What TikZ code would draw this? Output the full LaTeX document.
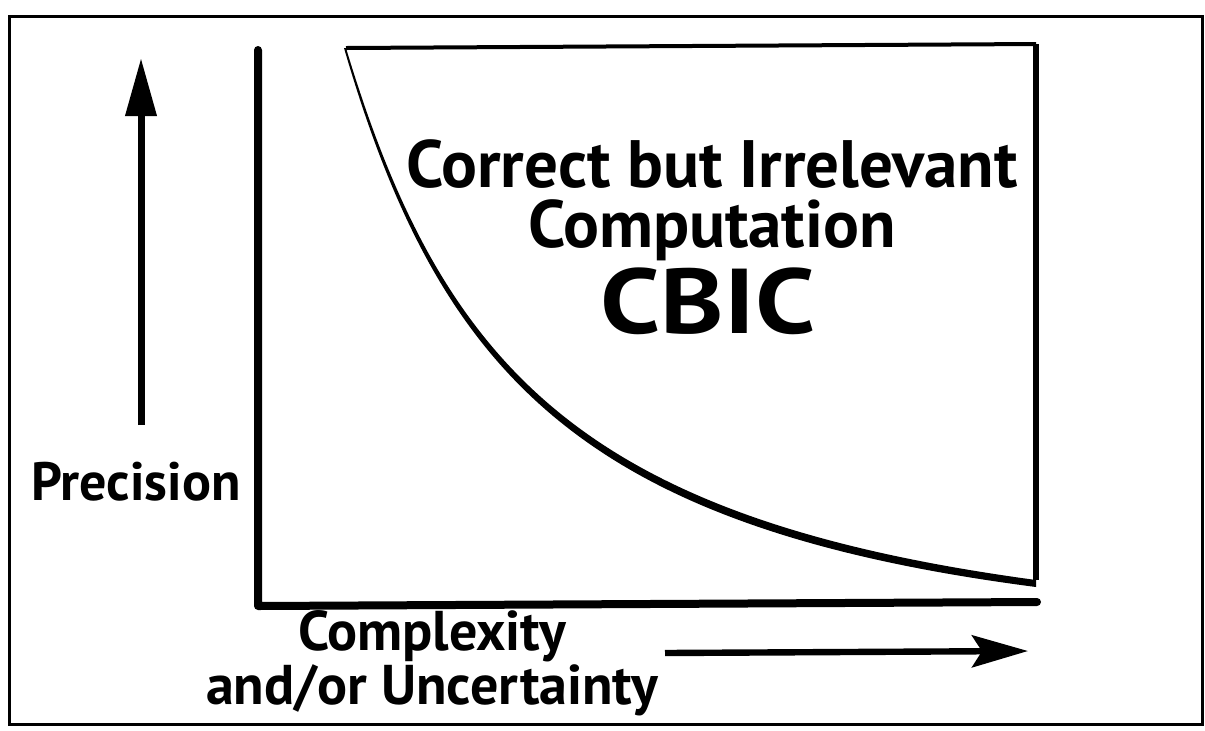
\documentclass[tikz,border=0pt]{standalone}
\usepackage{fontspec}
\setmainfont{PT Sans}
\usetikzlibrary{arrows.meta}
\begin{document}
\begin{tikzpicture}[x=0.5pt,y=-0.5pt,
  lbl/.style={inner sep=0pt, anchor=base},
  frameline/.style={line width=1.5pt},
  axisline/.style={line width=4pt, line cap=round, line join=round},
  uparrow/.style={line width=3.5pt, -{Triangle[length=29pt,width=15pt]}},
  rightarrow/.style={line width=3.2pt, -{Stealth[length=28pt,width=16pt,inset=5pt]}},
]
\useasboundingbox (0,0) rectangle (1205,730);
\draw[frameline] (9,16) rectangle (1202,724);
% axes
\coordinate (Ytop) at (258,50);
\coordinate (O) at (258,606);
\coordinate (Xend) at (1037,602);
\draw[axisline] (Ytop) -- (O) -- (Xend);
% region box
\coordinate (Bstart) at (346,48);
\coordinate (Btr) at (1036,44);
\coordinate (Bbr) at (1036,580);
\draw[line width=2pt] (Bstart) -- (Btr);
\draw[line width=3pt] (Btr) -- (Bbr);
\fill (Bstart) .. controls (443,370) and (585,519) .. (Bbr) -- ++(0,7)
      .. controls (581,528) and (439,374) .. (344,48) -- cycle;
% arrows
\coordinate (UA0) at (141,425);
\coordinate (UA1) at (141,58);
\draw[uparrow] (UA0) -- (UA1);
\coordinate (RA0) at (665,653);
\coordinate (RA1) at (1028,651);
\draw[rightarrow] (RA0) -- (RA1);
% texts
\node[lbl, align=center, text depth=0pt, font=\bfseries\fontsize{33.5}{30}\selectfont] (t1) at (712,247) {Correct but Irrelevant\\Computation};
\node[lbl, font=\bfseries\fontsize{46}{55}\selectfont] (t3) at (708,333) {\scalebox{1.17}[1]{CBIC}};
\node[lbl, font=\bfseries\fontsize{27}{32}\selectfont] (prec) at (136,500) {Precision};
\node[lbl, align=center, font=\bfseries\fontsize{28}{22.5}\selectfont] (cx) at (432,704) {Complexity\\and/or Uncertainty};
\end{tikzpicture}
\end{document}
